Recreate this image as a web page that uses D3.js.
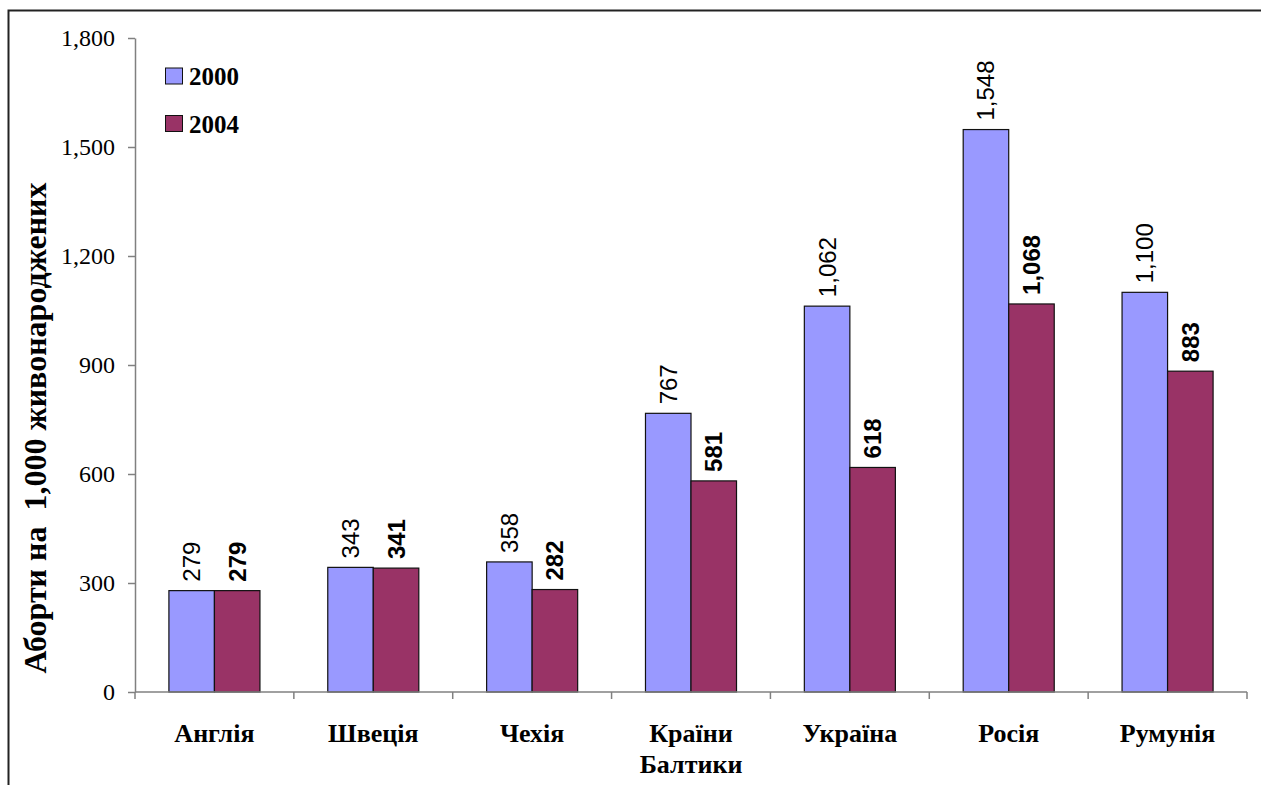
<!DOCTYPE html>
<html>
<head>
<meta charset="utf-8">
<script src="https://cdn.jsdelivr.net/npm/d3@7"></script>
<style>
  html, body { margin: 0; padding: 0; background: #fff; }
  svg { display: block; }
</style>
</head>
<body>
<svg id="chart" width="1261" height="785"></svg>
<script>
// Abortions per 1,000 live births, 2000 vs 2004
const categories = ["Англія", "Швеція", "Чехія", "Країни Балтики", "Україна", "Росія", "Румунія"];
const categoryLines = [["Англія"], ["Швеція"], ["Чехія"], ["Країни", "Балтики"], ["Україна"], ["Росія"], ["Румунія"]];
const seriesNames = ["2000", "2004"];
const values2000 = [279, 343, 358, 767, 1062, 1548, 1100];
const values2004 = [279, 341, 282, 581, 618, 1068, 883];
const yTicks = [0, 300, 600, 900, 1200, 1500, 1800];
const yTitle = "Аборти на  1,000 живонароджених";

const colors = { "2000": "#9999ff", "2004": "#993366" };
const series = [values2000, values2004];

const svg = d3.select("#chart");
const plot = { left: 135, right: 1247, top: 38, bottom: 692 };
const serif = "'Liberation Serif', 'Times New Roman', serif";
const sans = "'Liberation Sans', Arial, sans-serif";

// outer frame (runs off the right and bottom edges)
svg.append("path")
  .attr("d", "M8.5,800 L8.5,10.5 L1300,10.5")
  .attr("fill", "none").attr("stroke", "#222").attr("stroke-width", 2);

const x = d3.scaleBand().domain(categories).range([plot.left, plot.right]).paddingInner(0).paddingOuter(0);
const x1 = d3.scaleBand().domain(seriesNames).range([0, x.bandwidth()]).paddingInner(0).paddingOuter(0.745);
const y = d3.scaleLinear().domain([0, 1800]).range([plot.bottom, plot.top]);

const fmt = d3.format(",");

// y axis
const yAxis = svg.append("g")
  .attr("transform", `translate(${plot.left},0)`)
  .call(d3.axisLeft(y).tickValues(yTicks).tickFormat(fmt).tickSize(7).tickSizeOuter(0).tickPadding(13));
yAxis.select(".domain").attr("stroke", "#808080").attr("stroke-width", 1.5);
yAxis.selectAll(".tick line").attr("stroke", "#808080").attr("stroke-width", 1.5);
yAxis.selectAll(".tick text")
  .attr("font-family", serif)
  .attr("font-size", 24).attr("fill", "#000");

// bars with rotated value labels
categories.forEach((c, i) => {
  const g = svg.append("g").attr("transform", `translate(${x(c)},0)`);
  seriesNames.forEach((s, j) => {
    const v = series[j][i];
    g.append("rect")
      .attr("x", x1(s)).attr("y", y(v))
      .attr("width", x1.bandwidth()).attr("height", y(0) - y(v))
      .attr("fill", colors[s]).attr("stroke", "#111").attr("stroke-width", 1.2);
    const cx = x1(s) + x1.bandwidth() / 2;
    g.append("text")
      .attr("transform", `translate(${cx + 8.5},${y(v) - 9}) rotate(-90)`)
      .attr("font-family", sans)
      .attr("font-size", 24)
      .attr("font-weight", j === 1 ? "bold" : "normal")
      .attr("fill", "#000")
      .text(fmt(v));
  });
});

// x axis
const xAxis = svg.append("g").attr("transform", `translate(0,${plot.bottom})`);
xAxis.append("line")
  .attr("x1", plot.left).attr("x2", plot.right).attr("y1", 0).attr("y2", 0)
  .attr("stroke", "#808080").attr("stroke-width", 1.5);
const bounds = categories.map(c => x(c)).concat([x(categories[categories.length - 1]) + x.bandwidth()]);
xAxis.selectAll("line.tick").data(bounds).enter().append("line")
  .attr("class", "tick")
  .attr("x1", d => d).attr("x2", d => d).attr("y1", 0).attr("y2", 7)
  .attr("stroke", "#808080").attr("stroke-width", 1.5);

categories.forEach((c, i) => {
  const cx = x(c) + x.bandwidth() / 2;
  const t = svg.append("text")
    .attr("text-anchor", "middle")
    .attr("font-family", serif)
    .attr("font-size", 26).attr("font-weight", "bold").attr("fill", "#000");
  categoryLines[i].forEach((line, k) => {
    t.append("tspan").attr("x", cx).attr("y", 742 + k * 31).text(line);
  });
});

// y axis title
svg.append("text")
  .attr("transform", "translate(46,428) rotate(-90)")
  .attr("text-anchor", "middle")
  .attr("font-family", serif)
  .attr("font-size", 32).attr("font-weight", "bold")
  .style("white-space", "pre")
  .attr("fill", "#000")
  .text(yTitle);

// legend
const legend = svg.append("g");
seriesNames.forEach((s, j) => {
  const ly = 68 + j * 47.5;
  legend.append("rect")
    .attr("x", 165.5).attr("y", ly).attr("width", 17).attr("height", 16)
    .attr("fill", colors[s]).attr("stroke", "#111").attr("stroke-width", 1);
  legend.append("text")
    .attr("x", 189).attr("y", ly + 17)
    .attr("font-family", serif)
    .attr("font-size", 25).attr("font-weight", "bold").attr("fill", "#000")
    .text(s);
});
</script>
</body>
</html>
